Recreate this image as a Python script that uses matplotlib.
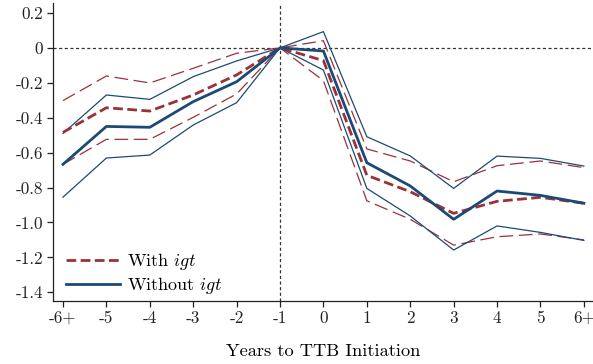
import matplotlib
matplotlib.use("Agg")
from matplotlib import pyplot as plt

# 事件时间
x_labels = ["-6+", "-5", "-4", "-3", "-2", "-1", "0", "1", "2", "3", "4", "5", "6+"]
x = list(range(len(x_labels)))

# With igt
with_est = [-0.484, -0.343, -0.362, -0.27, -0.155, 0.0, -0.073, -0.73, -0.824, -0.948, -0.879, -0.856, -0.89]
with_hi = [-0.302, -0.161, -0.201, -0.117, -0.031, 0.0, 0.041, -0.579, -0.648, -0.767, -0.675, -0.648, -0.686]
with_lo = [-0.667, -0.524, -0.524, -0.398, -0.264, 0.0, -0.188, -0.876, -0.982, -1.13, -1.082, -1.066, -1.10]
# Without igt
wo_est = [-0.667, -0.45, -0.455, -0.308, -0.194, 0.0, -0.018, -0.658, -0.791, -0.982, -0.82, -0.845, -0.89]
wo_hi = [-0.49, -0.27, -0.295, -0.165, -0.075, 0.0, 0.093, -0.509, -0.619, -0.805, -0.62, -0.633, -0.677]
wo_lo = [-0.855, -0.631, -0.614, -0.442, -0.314, 0.0, -0.127, -0.805, -0.963, -1.158, -1.02, -1.057, -1.103]

y_ticks = [0.2, 0, -0.2, -0.4, -0.6, -0.8, -1.0, -1.2, -1.4]
y_tick_labels = ["0.2", "0", "-0.2", "-0.4", "-0.6", "-0.8", "-1.0", "-1.2", "-1.4"]

plt.rcParams['font.family'] = 'serif'
plt.rcParams['font.serif'] = ['cmr10']
plt.rcParams['mathtext.fontset'] = 'cm'
plt.rcParams['axes.unicode_minus'] = False

red = "#9a3238"
blue = "#1c4a75"

fig = plt.figure(figsize=(5.93, 3.64), dpi=100)
ax = fig.add_axes([53/593, 1-301/364, 540/593, 298/364])

ax.axhline(0, color="#333333", lw=0.9, ls=(0, (2.5, 2)), zorder=1)
ax.axvline(5, color="#333333", lw=0.9, ls=(0, (2.5, 2)), zorder=1)

ax.plot(x, with_hi, color=red, lw=0.9, ls=(0, (11, 4.5)))
ax.plot(x, with_lo, color=red, lw=0.9, ls=(0, (11, 4.5)))
ax.plot(x, wo_hi, color=blue, lw=0.9)
ax.plot(x, wo_lo, color=blue, lw=0.9)
ax.plot(x, with_est, color=red, lw=2.0, ls=(0, (3.5, 1.6)), label=r"With $igt$")
ax.plot(x, wo_est, color=blue, lw=2.0, label=r"Without $igt$")

ax.set_xlim(-0.23, 12.21)
ax.set_ylim(-1.45, 0.257)
ax.set_xticks(x)
ax.set_xticklabels(x_labels)
ax.set_yticks(y_ticks)
ax.set_yticklabels(y_tick_labels)
ax.tick_params(labelsize=12.3, length=4, width=0.9, colors="#222222", pad=3)
ax.spines['top'].set_visible(False)
ax.spines['right'].set_visible(False)
for s in ['left', 'bottom']:
    ax.spines[s].set_linewidth(0.9)
    ax.spines[s].set_color("#222222")

ax.set_xlabel("Years to TTB Initiation", fontsize=13.2, labelpad=13)
ax.legend(loc="lower left", bbox_to_anchor=(0, -0.027), frameon=False, fontsize=13,
          handlelength=3.0, handletextpad=0.4, borderaxespad=0.3, labelspacing=0.18)

plt.savefig("out.png", dpi=100)
